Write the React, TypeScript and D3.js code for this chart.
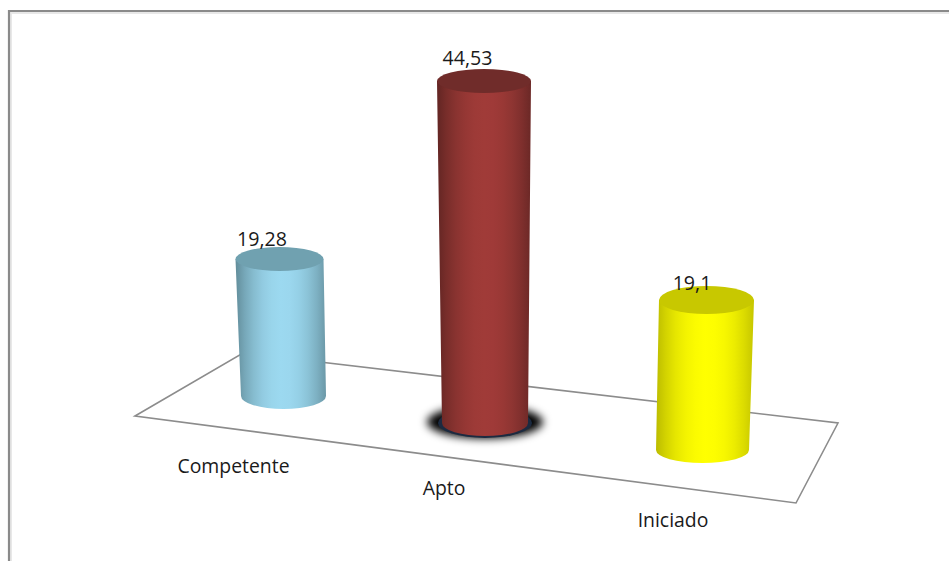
import React from "react";
import * as d3 from "d3";

const categories = ["Competente", "Apto", "Iniciado"];
const values = [19.28, 44.53, 19.1];
const valueLabels = ["19,28", "44,53", "19,1"];

// scene geometry (perspective projection of the 3D cylinders)
const baseX = [283.5, 485, 702.5];
const baseY = [396, 423, 450];
const baseRx = [42.5, 43, 46.5];
const topRx = [44, 47, 47.5];
const topRy = [12, 12, 14];
const baseRy = [13, 13, 13];
const lean = [-4, -1, 4];
const pxPerUnit = [7.106, 7.68, 7.853];
const labelX = [262, 467.5, 692];
const labelY = [246, 65, 290];
const catX = [233.5, 444, 673];
const catY = [473, 495, 527];
const edgeColors = ["#628d9a", "#622523", "#bcbc00"];
const midColors = ["#9cd9f0", "#a03b38", "#ffff00"];
const topColors = ["#70a1b0", "#702c2a", "#c8c800"];
const floor: [number, number][] = [[135, 416], [243, 353], [838, 423], [796, 503]];

const FONT = "'Open Sans', sans-serif";

export default function App() {
  const floorPath = d3.line()(floor) + "Z";
  return (
    <svg width={949} height={561} style={{ position: "absolute", left: 0, top: 0, background: "#fff" }}>
      <defs>
        {categories.map((c, i) => {
          const stops = d3.range(0, 1.01, 0.1).map((t) => {
            const k = Math.max(0, 1 - Math.abs(t - 0.52) / 0.52);
            return { t, col: d3.interpolateRgb(edgeColors[i], midColors[i])(d3.easeQuadOut(k)) };
          });
          return (
            <linearGradient key={c} id={`g${i}`} x1="0" x2="1" y1="0" y2="0">
              {stops.map((s) => <stop key={s.t} offset={s.t} stopColor={s.col} />)}
            </linearGradient>
          );
        })}
        <filter id="blur" x="-30%" y="-60%" width="160%" height="220%">
          <feGaussianBlur stdDeviation="4" />
        </filter>
        <filter id="soft" x="-10%" y="-10%" width="120%" height="120%">
          <feGaussianBlur stdDeviation="0.7" />
        </filter>
      </defs>

      {/* frame */}
      <path d="M10.5 561V12.5H949" fill="none" stroke="#e8e8e8" strokeWidth={3} />
      <path d="M9 561V11H949" fill="none" stroke="#8a8a8a" strokeWidth={2.2} />

      {/* floor */}
      <path d={floorPath} fill="#fff" stroke="#8c8c8c" strokeWidth={1.6} />

      {/* shadow under the selected bar */}
      <ellipse cx={baseX[1]} cy={baseY[1] - 1} rx={baseRx[1] + 15} ry={baseRy[1] + 3.5} fill="#000" filter="url(#blur)" />
      <ellipse cx={baseX[1]} cy={baseY[1]} rx={baseRx[1] + 4} ry={baseRy[1] + 2} fill="#1c2b40" filter="url(#soft)" />

      {/* cylinders */}
      {categories.map((c, i) => {
        const h = d3.scaleLinear().domain([0, 1]).range([0, pxPerUnit[i]])(values[i]);
        const bx = baseX[i], by = baseY[i], tx = bx + lean[i], ty = by - h;
        const body = `M${tx - topRx[i]} ${ty} L${bx - baseRx[i]} ${by} A${baseRx[i]} ${baseRy[i]} 0 0 0 ${bx + baseRx[i]} ${by} L${tx + topRx[i]} ${ty} Z`;
        return (
          <g key={c}>
            <path d={body} fill={`url(#g${i})`} />
            <ellipse cx={tx} cy={ty} rx={topRx[i]} ry={topRy[i]} fill={topColors[i]} />
          </g>
        );
      })}

      {/* value labels */}
      {valueLabels.map((t, i) => (
        <text key={t} x={labelX[i]} y={labelY[i]} textAnchor="middle" fontFamily={FONT} fontSize={19.6} fill="#1a1a1a">{t}</text>
      ))}
      {/* categories */}
      {categories.map((c, i) => (
        <text key={c} x={catX[i]} y={catY[i]} textAnchor="middle" fontFamily={FONT} fontSize={19.4} fill="#1a1a1a">{c}</text>
      ))}
    </svg>
  );
}
